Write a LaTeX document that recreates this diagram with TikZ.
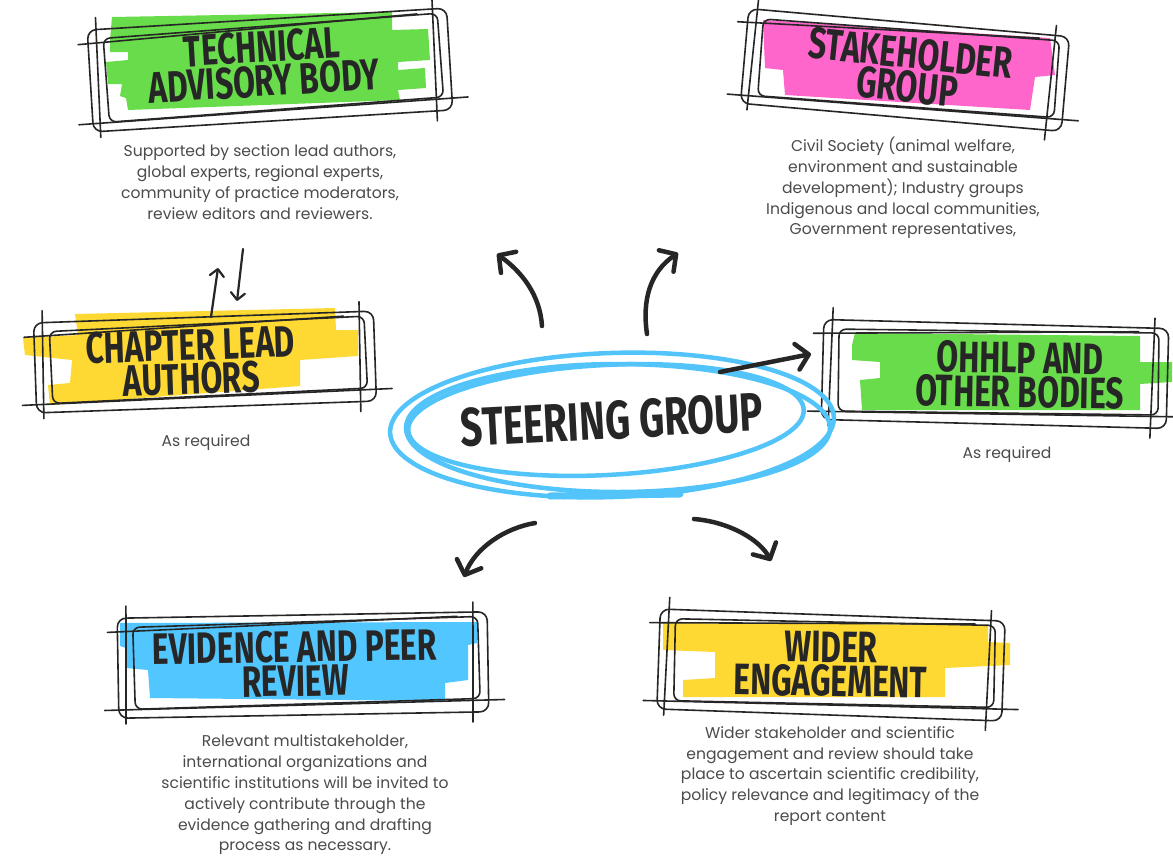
\documentclass[tikz,border=0pt]{standalone}
\usepackage{fontspec}
\setmainfont{Poppins}
\newfontfamily\handfont{Fira Sans}[FakeStretch=0.72]
\usetikzlibrary{arrows.meta}
\definecolor{hlgreen}{RGB}{104,220,74}
\definecolor{hlpink}{RGB}{255,102,204}
\definecolor{hlyellow}{RGB}{255,217,51}
\definecolor{hlblue}{RGB}{82,198,255}
\definecolor{ringblue}{RGB}{82,196,250}
\definecolor{ink}{RGB}{38,38,38}
\definecolor{bodygray}{RGB}{75,75,75}
\tikzset{
  sketch/.style={draw=ink, line width=1.6, line cap=round, line join=round},
  heading/.style={font=\handfont\bfseries\fontsize{44}{44}\selectfont, text=ink, inner sep=0, transform shape},
  bigheading/.style={font=\handfont\bfseries\fontsize{54}{54}\selectfont, text=ink, inner sep=0},
  body/.style={font=\fontsize{15.6}{20.8}\selectfont, text=bodygray, align=center, inner sep=0},
  flow/.style={draw=ink, line width=4.5, line cap=round, -{Straight Barb[round,length=12pt,width=26pt]}},
  thinflow/.style={draw=ink, line width=2.2, line cap=round, -{Straight Barb[round,length=7pt,width=14pt]}},
  ring/.style={draw=ringblue, line width=4.5, line cap=round},
}
\newcommand\SketchFrame[5]{%
\begin{scope}[shift={(#1,#2)}, rotate=#5]
  \draw[sketch, rounded corners=9] ({-#3/2},{-#4/2}) rectangle ({#3/2},{#4/2});
  \draw[sketch, rounded corners=7, rotate=0.8] ({-#3/2+16},{-#4/2+7}) rectangle ({#3/2-9},{#4/2-11});
  \draw[sketch] ({-#3/2-14},{#4/2-8}) -- ({#3/2+16},{#4/2-12});
  \draw[sketch] ({-#3/2+9},{-#4/2-12}) -- ({-#3/2+7},{#4/2+6});
  \draw[sketch] ({#3/2-14},{-#4/2-10}) -- ({#3/2-16},{#4/2+10});
  \draw[sketch] ({-#3/2-10},{-#4/2+14}) -- ({#3/2-30},{-#4/2+4});
\end{scope}}
\newcommand\HeadTwo[6]{%
\begin{scope}[shift={(#2,#3)}, rotate=#4]
  \node[heading] (#1a) at (0,-17) {#5};
  \node[heading] (#1b) at (0,17) {#6};
\end{scope}}
\begin{document}
\begin{tikzpicture}[x=1pt,y=-1pt]
\useasboundingbox (0,0) rectangle (1173,855);
\fill[white] (0,0) rectangle (1173,855);

% highlights
\fill[hlgreen] (112,17) -- (392,12) -- (392,30) -- (428,29) -- (430,60) -- (398,62) -- (398,70) -- (425,68) -- (426,88) -- (398,90) -- (400,100) -- (128,110) -- (126,98) -- (120,96) -- (122,84) -- (108,84) -- (106,62) -- (128,60) -- (128,52) -- (110,52) -- (110,40) -- cycle;
\fill[hlpink] (763,20) -- (1050,38) -- (1055,75) -- (1035,77) -- (1030,110) -- (785,95) -- (783,70) -- (765,68) -- cycle;
\fill[hlyellow] (75,314) -- (335,308) -- (336,330) -- (358,330) -- (358,356) -- (300,360) -- (300,386) -- (50,405) -- (48,385) -- (70,383) -- (72,360) -- (25,355) -- (23,338) -- (78,335) -- cycle;
\fill[hlgreen] (855,333) -- (1140,336) -- (1140,362) -- (1172,362) -- (1172,382) -- (1140,384) -- (1140,410) -- (862,410) -- (860,380) -- (880,378) -- (880,362) -- (852,360) -- (852,345) -- cycle;
\fill[hlblue] (120,623) -- (477,622) -- (477,643) -- (468,645) -- (468,680) -- (445,683) -- (445,701) -- (150,698) -- (148,670) -- (126,668) -- (126,648) -- (120,646) -- cycle;
\fill[hlyellow] (663,623) -- (988,625) -- (988,642) -- (1010,643) -- (1010,665) -- (945,668) -- (945,697) -- (683,697) -- (683,680) -- (715,678) -- (715,652) -- (663,650) -- cycle;

% sketch frames
\SketchFrame{270}{70}{360}{102}{3.5}
\SketchFrame{905}{70}{322}{95}{-5}
\SketchFrame{205}{362}{340}{90}{2}
\SketchFrame{995}{374}{345}{100}{-1.5}
\SketchFrame{303}{665}{370}{100}{1}
\SketchFrame{831}{665}{345}{100}{-2}

% steering ring
\draw[ring, rotate around={2:(612,425)}] (612,425) ellipse [x radius=222, y radius=72];
\draw[ring, rotate around={3:(606,420)}] (606,420) ellipse [x radius=198, y radius=55];
\draw[ring, rotate around={0:(618,428)}] (618,428) ellipse [x radius=212, y radius=64];
\draw[ringblue, line width=7, line cap=round] (550,496) -- (680,494);

% headings
\HeadTwo{tab}{263}{64}{3.5}{TECHNICAL}{ADVISORY BODY}
\HeadTwo{stk}{909}{70}{-6}{STAKEHOLDER}{GROUP}
\HeadTwo{cla}{191}{362}{2}{CHAPTER LEAD}{AUTHORS}
\HeadTwo{ohh}{1020}{375}{-1}{OHHLP AND}{OTHER BODIES}
\HeadTwo{evi}{295}{664}{1}{EVIDENCE AND PEER}{REVIEW}
\HeadTwo{wid}{831}{664}{-1}{WIDER}{ENGAGEMENT}
\node[bigheading, rotate=3] (sg) at (612,420) {STEERING GROUP};

% descriptions
\node[body] (tabd) at (260,182) {Supported by section lead authors,\\global experts, regional experts,\\community of practice moderators,\\review editors and reviewers.};
\node[body] (stkd) at (903,188) {Civil Society (animal welfare,\\environment and sustainable\\development); Industry groups\\Indigenous and local communities,\\Government representatives,};
\node[body] (clad) at (206,443) {As required};
\node[body] (ohhd) at (1007,455) {As required};
\node[body] (evid) at (305,795) {Relevant multistakeholder,\\international organizations and\\scientific institutions will be invited to\\actively contribute through the\\evidence gathering and drafting\\process as necessary.};
\node[body] (widd) at (830,776) {Wider stakeholder and scientific\\engagement and review should take\\place to ascertain scientific credibility,\\policy relevance and legitimacy of the\\report content};

% arrow end points
\coordinate (a1s) at (542,326); \coordinate (a1e) at (497,254);
\coordinate (a2s) at (647,334); \coordinate (a2e) at (678,253);
\coordinate (a3s) at (720,372); \coordinate (a3e) at (811,354);
\coordinate (a4s) at (535,523); \coordinate (a4e) at (464,577);
\coordinate (a5s) at (694,519); \coordinate (a5e) at (771,561);
\coordinate (b1s) at (211,317); \coordinate (b1e) at (218,268);
\coordinate (b2s) at (243,249); \coordinate (b2e) at (237,301);

\draw[flow] (a1s) .. controls (540,295) and (522,272) .. (a1e);
\draw[flow] (a2s) .. controls (642,300) and (650,272) .. (a2e);
\draw[flow] (a3s) -- (a3e);
\draw[flow] (a4s) .. controls (505,528) and (475,548) .. (a4e);
\draw[flow] (a5s) .. controls (730,522) and (760,540) .. (a5e);
\draw[thinflow] (b1s) -- (b1e);
\draw[thinflow] (b2s) -- (b2e);
\end{tikzpicture}
\end{document}
